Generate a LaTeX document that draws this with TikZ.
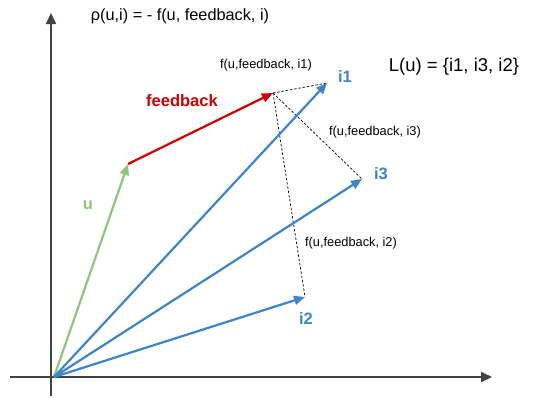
\documentclass[tikz,border=0pt]{standalone}
\usepackage{fontspec}
\setmainfont{Liberation Sans}
\usetikzlibrary{arrows.meta}
\definecolor{vblue}{HTML}{3D85C6}
\definecolor{vred}{HTML}{CC0000}
\definecolor{vgreen}{HTML}{93C47D}
\definecolor{axisgray}{HTML}{434343}
\tikzset{
  axisline/.style={draw=axisgray, line width=2.2pt, -{Triangle[length=11pt,width=10pt]}},
  vec/.style={line width=2.2pt, -{Triangle[length=11pt,width=9pt]}},
  dashline/.style={draw=black, line width=0.7pt, dash pattern=on 2.5pt off 1.8pt},
  small/.style={font=\fontsize{12.8}{14}\selectfont, inner sep=0pt},
  vlabel/.style={font=\fontsize{16.5}{18}\selectfont\bfseries, inner sep=0pt},
}
\begin{document}
\begin{tikzpicture}[x=1pt,y=-1pt]
\useasboundingbox (0,0) rectangle (548,397);
\coordinate (O) at (54,377);
\coordinate (yb) at (51,396);
\coordinate (yt) at (51,13);
\coordinate (xl) at (10,377);
\coordinate (xr) at (492,377);
\coordinate (U) at (128,164);
\coordinate (F) at (273,93);
\coordinate (I1) at (327,83);
\coordinate (I3) at (362,179);
\coordinate (I2) at (305,297);
% axes
\draw[axisline] (yb) -- (yt);
\draw[axisline] (xl) -- (xr);
% dashed
\draw[dashline] (F) -- (I1);
\draw[dashline] (F) -- (I3);
\draw[dashline] (F) -- (I2);
% vectors
\draw[vec, vgreen] (O) -- (U);
\draw[vec, vred] (U) -- (F);
\draw[vec, vblue] (O) -- (I1);
\draw[vec, vblue] (O) -- (I3);
\draw[vec, vblue] (O) -- (I2);
% labels
\node[font=\fontsize{16.3}{18}\selectfont, inner sep=0pt] (rho) at (180,16) {ρ(u,i) = - f(u, feedback, i)};
\node[font=\fontsize{18.5}{20}\selectfont, inner sep=0pt] (L) at (454,67) {L(u) = \{i1, i3, i2\}};
\node[small] (f1) at (266,65) {f(u,feedback, i1)};
\node[small] (f3) at (375,132) {f(u,feedback, i3)};
\node[small] (f2) at (351,243) {f(u,feedback, i2)};
\node[vlabel, text=vblue] (l1) at (345,77) {i1};
\node[vlabel, text=vblue] (l3) at (381,174) {i3};
\node[vlabel, text=vblue] (l2) at (306,319) {i2};
\node[vlabel, text=vred] (lf) at (182,101) {feedback};
\node[vlabel, text=vgreen] (lu) at (88,205) {u};
\end{tikzpicture}
\end{document}
